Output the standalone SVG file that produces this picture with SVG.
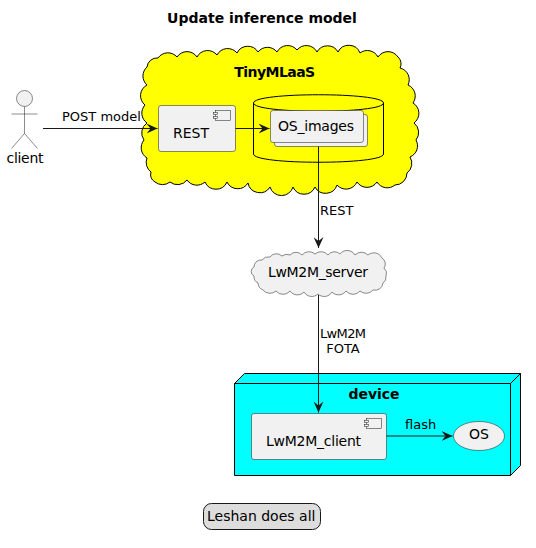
<svg xmlns="http://www.w3.org/2000/svg" width="536" height="548" viewBox="0 0 536 548">
<style>
text{font-family:"DejaVu Sans",sans-serif;fill:#000}
.t14{font-size:14px}.t13{font-size:13px}.b{font-size:14px;font-weight:bold}.m{text-anchor:middle}
.n{fill:#F1F1F1;stroke:#181818;stroke-width:.5}
.c{fill:none;stroke:#181818;stroke-width:1}
</style>
<defs>
<marker id="a" markerUnits="userSpaceOnUse" markerWidth="12" markerHeight="10" refX="11" refY="5" orient="auto"><path d="M0 0L11 5L0 10L4 5Z" fill="#181818"/></marker>
</defs>
<rect width="536" height="548" fill="#fff"/>
<text class="b m" x="262" y="23">Update inference model</text>
<g id="TinyMLaaS">
<path d="M147 67A10 10 0 0 1 158 58A12 12 0 0 1 177 57A12 12 0 0 1 197 57A12 12 0 0 1 217 55A12 12 0 0 1 237 53A12 12 0 0 1 258 52A12 12 0 0 1 277 52A12 12 0 0 1 297 50A12 12 0 0 1 317 52A12 12 0 0 1 338 52A12 12 0 0 1 360 53A12 12 0 0 1 378 57A12 12 0 0 1 398 57A9 9 0 0 1 400 68A12 12 0 0 1 408 85A12 12 0 0 1 413 103A12 12 0 0 1 414 123A12 12 0 0 1 416 140A12 12 0 0 1 410 157A12 12 0 0 1 407 173A12 12 0 0 1 395 185A12 12 0 0 1 377 182A12 12 0 0 1 357 182A12 12 0 0 1 337 185A12 12 0 0 1 315 187A12 12 0 0 1 293 187A12 12 0 0 1 270 187A12 12 0 0 1 248 183A12 12 0 0 1 227 182A12 12 0 0 1 205 182A12 12 0 0 1 187 180A12 12 0 0 1 170 182A12 12 0 0 1 155 182A9 9 0 0 1 151 172A12 12 0 0 1 147 158A12 12 0 0 1 144 140A12 12 0 0 1 147 123A12 12 0 0 1 145 105A12 12 0 0 1 147 85A12 12 0 0 1 147 67Z" fill="#FFFF00" stroke="#000" stroke-width="1"/>
<text class="b m" x="274.7" y="77" textLength="81">TinyMLaaS</text>
</g>
<g id="OS_images_db">
<path d="M253.500 103C253.500 92 383.500 92 383.500 103V154C383.500 165 253.500 165 253.500 154Z" fill="#FFFF00" stroke="#000"/>
<path d="M253.500 103C253.500 114 383.500 114 383.500 103" fill="none" stroke="#000"/>
</g>
<g id="REST">
<rect class="n" x="158.500" y="105.500" width="77" height="46" rx="2.500"/>
<rect class="n" x="215.500" y="110.500" width="15" height="10"/>
<rect class="n" x="213.500" y="112.500" width="4" height="2"/>
<rect class="n" x="213.500" y="116.500" width="4" height="2"/>
<text class="t14" x="173" y="138">REST</text>
</g>
<g id="OS_images">
<rect class="n" x="274.500" y="114.500" width="93" height="32" rx="2.500"/>
<rect class="n" x="270.500" y="110.500" width="93" height="32" rx="2.500"/>
<text class="t14" x="278" y="131" textLength="76">OS_images</text>
</g>
<g id="client">
<circle class="n" cx="24.500" cy="98.500" r="8"/>
<path class="n" d="M24.500 106.500V133.500M11.500 114H37.500M24.500 133.500L11.500 148.500M24.500 133.500L37.500 148.500"/>
<text class="t14 m" x="25" y="163" textLength="37">client</text>
</g>
<g id="LwM2M_server">
<path class="n" d="M254 267A7 7 0 0 1 262 260A8 8 0 0 1 270 257A8 8 0 0 1 282 256A8 8 0 0 1 290 255A8 8 0 0 1 302 255A9 9 0 0 1 315 254A9 9 0 0 1 328 255A8 8 0 0 1 340 254A9 9 0 0 1 355 255A9 9 0 0 1 368 255A9 9 0 0 1 382 258A7 7 0 0 1 384 268A7 7 0 0 1 386 276A7 7 0 0 1 383 283A8 8 0 0 1 373 290A9 9 0 0 1 360 291A9 9 0 0 1 346 291A9 9 0 0 1 332 292A9 9 0 0 1 318 294A9 9 0 0 1 304 292A9 9 0 0 1 290 291A9 9 0 0 1 276 291A9 9 0 0 1 263 290A8 8 0 0 1 258 283A7 7 0 0 1 254 276A5 5 0 0 1 254 267Z"/>
<text class="t14" x="268" y="277" textLength="100">LwM2M_server</text>
</g>
<g id="device">
<path d="M234.500 383.500L244.500 373.500H520.500V465.500L510.500 475.500H234.500Z" fill="#00FFFF" stroke="#000"/>
<path d="M234.500 383.500H510.500L520.500 373.500M510.500 383.500V475.500" fill="none" stroke="#000"/>
<text class="b m" x="374" y="399">device</text>
</g>
<g id="LwM2M_client">
<rect class="n" x="251.500" y="413.500" width="135" height="46" rx="2.500"/>
<rect class="n" x="366.500" y="418.500" width="15" height="10"/>
<rect class="n" x="364.500" y="420.500" width="4" height="2"/>
<rect class="n" x="364.500" y="424.500" width="4" height="2"/>
<text class="t14" x="266" y="446" textLength="95">LwM2M_client</text>
</g>
<g id="OS">
<ellipse class="n" cx="479" cy="436" rx="25.500" ry="14.500"/>
<text class="t14 m" x="479" y="439">OS</text>
</g>
<g id="connectors">
<path class="c" d="M43 128.500H157.500" marker-end="url(#a)"/>
<path class="c" d="M235.500 128.500H269.500" marker-end="url(#a)"/>
<path class="c" d="M318.500 146.500V248" marker-end="url(#a)"/>
<path class="c" d="M318.500 295V412.500" marker-end="url(#a)"/>
<path class="c" d="M386.500 436H452.500" marker-end="url(#a)"/>
<text class="t13" x="62" y="121">POST model</text>
<text class="t13" x="320" y="215">REST</text>
<text class="t13 m" x="343" y="338" textLength="46">LwM2M</text>
<text class="t13 m" x="343" y="353">FOTA</text>
<text class="t13" x="405" y="429">flash</text>
</g>
<g id="note">
<rect x="203.500" y="503.500" width="117" height="26" rx="8" fill="#DDDDDD" stroke="#181818" stroke-width="1"/>
<text class="t14" x="207" y="521">Leshan does all</text>
</g>
</svg>
